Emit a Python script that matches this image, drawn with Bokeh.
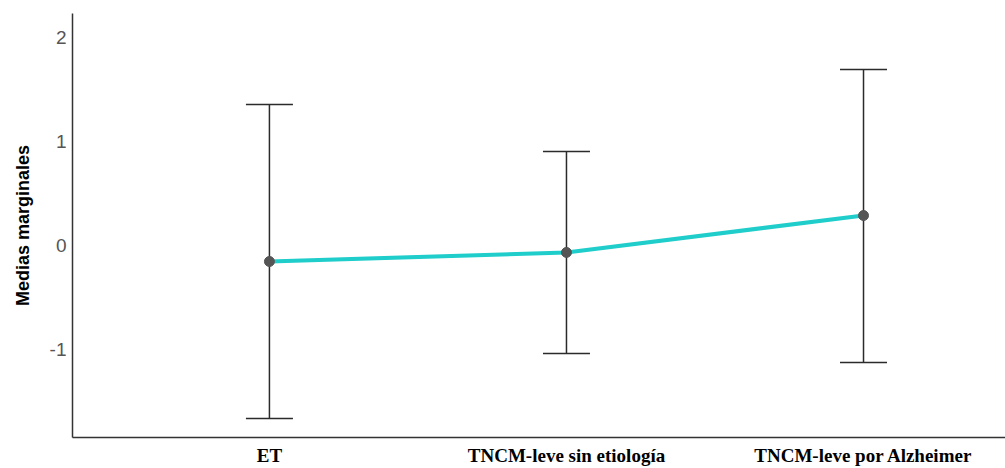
from bokeh.plotting import figure
from bokeh.models import ColumnDataSource, FixedTicker, Whisker, TeeHead, Range1d
from bokeh.embed import file_html
from bokeh.resources import INLINE

categories = ["ET", "TNCM-leve sin etiología", "TNCM-leve por Alzheimer"]
means = [-0.154, -0.067, 0.288]
upper = [1.356, 0.904, 1.692]
lower = [-1.663, -1.038, -1.125]
yticks = [-1, 0, 1, 2]

xs = list(range(len(categories)))
src = ColumnDataSource(dict(x=xs, mean=means, upper=upper, lower=lower))

p = figure(width=1005, height=468, output_backend="svg", toolbar_location=None,
           x_range=Range1d(-0.663, 2.478), y_range=Range1d(-1.846, 2.23),
           min_border_left=72, min_border_right=0, min_border_top=13, min_border_bottom=31)
p.outline_line_color = None
p.grid.grid_line_color = None
p.background_fill_color = "white"
p.border_fill_color = "white"

w = Whisker(source=src, base="x", upper="upper", lower="lower", dimension="height",
            line_color="#2b2b2b", line_width=1.5,
            upper_head=TeeHead(size=47, line_color="#2b2b2b", line_width=1.5),
            lower_head=TeeHead(size=47, line_color="#2b2b2b", line_width=1.5))
p.add_layout(w)

p.line("x", "mean", source=src, line_color="#1fcdcb", line_width=4)
p.scatter("x", "mean", source=src, size=10, fill_color="#555555", line_color="#555555")

p.xaxis.ticker = FixedTicker(ticks=xs)
p.xaxis.major_label_overrides = {i: c for i, c in enumerate(categories)}
p.xaxis.major_label_text_font = "Liberation Serif"
p.xaxis.major_label_text_font_style = "bold"
p.xaxis.major_label_text_font_size = "19px"
p.xaxis.major_label_text_color = "black"
p.xaxis.major_label_standoff = 7

p.yaxis.ticker = FixedTicker(ticks=yticks)
p.yaxis.major_label_overrides = {t: str(t) for t in yticks}
p.yaxis.major_label_text_font = "Liberation Sans"
p.yaxis.major_label_text_font_size = "19px"
p.yaxis.major_label_text_color = "#555555"
p.yaxis.major_label_standoff = 6
p.yaxis.axis_label = "Medias marginales"
p.yaxis.axis_label_text_font = "Liberation Sans"
p.yaxis.axis_label_text_font_style = "bold"
p.yaxis.axis_label_text_font_size = "18px"
p.yaxis.axis_label_text_color = "black"
p.yaxis.axis_label_standoff = 14

for ax in (p.xaxis, p.yaxis):
    ax.major_tick_line_color = None
    ax.minor_tick_line_color = None
    ax.major_tick_out = 0
    ax.major_tick_in = 0
    ax.minor_tick_out = 0
    ax.minor_tick_in = 0
    ax.axis_line_color = "#333333"
    ax.axis_line_width = 1.5

open("out.html", "w").write(file_html(p, INLINE))
